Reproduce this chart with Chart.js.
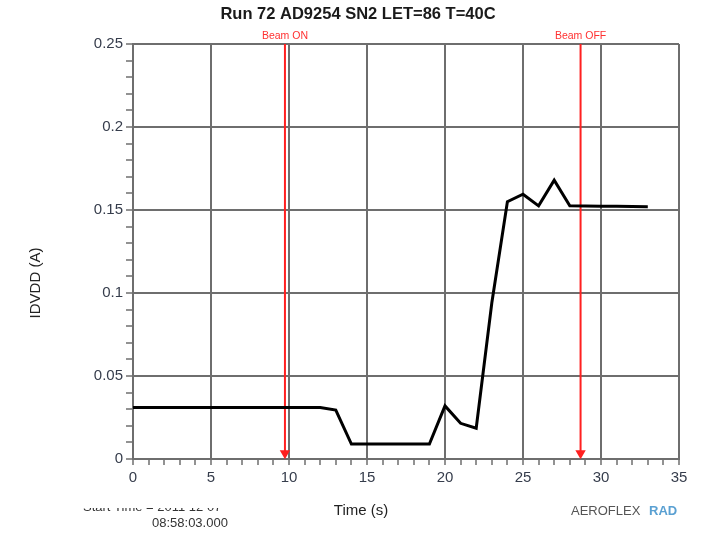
<!DOCTYPE html>
<html lang="en">
<head>
<meta charset="UTF-8">
<title>Run 72 AD9254 SN2</title>
<style>
  html, body { margin: 0; padding: 0; background: #ffffff; }
  #wrap { width: 706px; height: 534px; }
</style>
</head>
<body>
<div id="wrap"><canvas id="chartCanvas" width="706" height="534"></canvas></div>
<script src="https://cdn.jsdelivr.net/npm/chart.js@4.4.1/dist/chart.umd.min.js"></script>
<script>
// data
const timeS = [0, 1, 2, 3, 4, 5, 6, 7, 8, 9, 10, 11, 12, 13, 14, 15, 16, 17, 18, 19, 20, 21, 22, 23, 24, 25, 26, 27, 28, 29, 30, 31, 32, 33];
const idvdd = [0.031, 0.031, 0.031, 0.031, 0.031, 0.031, 0.031, 0.031, 0.031, 0.031, 0.031, 0.031, 0.031, 0.0295, 0.009, 0.009, 0.009, 0.009, 0.009, 0.009, 0.032, 0.0215, 0.0185, 0.094, 0.155, 0.1595, 0.1525, 0.168, 0.1525, 0.1524, 0.1523, 0.1522, 0.1521, 0.152];
const beamTimes = [9.74, 28.69];
const beamLabels = ['Beam ON', 'Beam OFF'];
const xTicks = [0, 5, 10, 15, 20, 25, 30, 35];
const yTicks = ['0', '0.05', '0.1', '0.15', '0.2', '0.25'];

const FONT = "'Liberation Sans', Arial, sans-serif";
const GRID = '#6e6e6e';
const TICKTXT = '#363d4c';

const lineData = timeS.map((t, i) => ({ x: t, y: idvdd[i] }));

const beamSets = beamTimes.map(t => ({
    data: [{ x: t, y: 0.25 }, { x: t, y: 0.0035 }],
    borderColor: '#ff2020',
    backgroundColor: '#ff2020',
    borderWidth: 2,
    pointStyle: 'triangle',
    rotation: 180,
    pointRadius: [0, 4],
    clip: false
}));

// titles, beam labels and footer text
const textPlugin = {
    id: 'texts',
    afterDraw(chart) {
        const ctx = chart.ctx;
        const xs = chart.scales.x;
        const top = chart.chartArea.top;
        ctx.save();
        ctx.textAlign = 'center';
        ctx.textBaseline = 'middle';

        ctx.fillStyle = '#1a1a1a';
        ctx.font = 'bold 16.5px ' + FONT;
        ctx.fillText('Run 72 AD9254 SN2 LET=86 T=40C', 358, 14);

        ctx.fillStyle = '#ff3030';
        ctx.font = '10.5px ' + FONT;
        beamTimes.forEach((t, i) => {
            ctx.fillText(beamLabels[i], xs.getPixelForValue(t), top - 8);
        });

        ctx.fillStyle = '#222';
        ctx.font = '15px ' + FONT;
        ctx.fillText('Time (s)', 361, 511);

        ctx.save();
        ctx.translate(36, 283);
        ctx.rotate(-Math.PI / 2);
        ctx.fillText('IDVDD (A)', 0, 0);
        ctx.restore();

        // start time (first line cut off at the top)
        ctx.font = '13px ' + FONT;
        ctx.fillStyle = '#333';
        ctx.textAlign = 'left';
        ctx.save();
        ctx.beginPath();
        ctx.rect(0, 508, 300, 20);
        ctx.clip();
        ctx.fillText('Start Time = 2011 12 07', 83, 507);
        ctx.restore();
        ctx.fillText('08:58:03.000', 152, 523);

        // logo
        ctx.fillStyle = '#555';
        ctx.fillText('AEROFLEX', 571, 511);
        ctx.fillStyle = '#5aa0d2';
        ctx.font = 'bold 13px ' + FONT;
        ctx.fillText('RAD', 649, 511);
        ctx.restore();
    }
};

new Chart(document.getElementById('chartCanvas'), {
    type: 'line',
    data: {
        datasets: [{
            data: lineData,
            borderColor: '#000',
            borderWidth: 3,
            pointRadius: 0,
            tension: 0
        }].concat(beamSets)
    },
    options: {
        responsive: false,
        animation: false,
        layout: { padding: { top: 44, right: 27, left: 0, bottom: 0 } },
        plugins: { legend: { display: false }, title: { display: false }, tooltip: { enabled: false } },
        scales: {
            x: {
                type: 'linear',
                min: 0, max: 35,
                afterFit: s => { s.height = 75; },
                border: { color: GRID, width: 2 },
                grid: {
                    color: c => (c.tick && c.tick.value % 5 === 0) ? GRID : 'rgba(0,0,0,0)',
                    lineWidth: 2,
                    tickColor: GRID,
                    tickWidth: 1.5,
                    tickLength: 6
                },
                ticks: {
                    stepSize: 1,
                    autoSkip: false,
                    maxRotation: 0,
                    padding: 4,
                    color: TICKTXT,
                    font: { family: FONT, size: 15 },
                    callback: v => xTicks.includes(v) ? String(v) : ''
                }
            },
            y: {
                min: 0, max: 0.25,
                afterFit: s => { s.width = 133; },
                border: { color: GRID, width: 2 },
                grid: {
                    color: c => (c.tick && Math.round(c.tick.value * 100) % 5 === 0) ? GRID : 'rgba(0,0,0,0)',
                    lineWidth: 2,
                    tickColor: GRID,
                    tickWidth: 1.5,
                    tickLength: 7
                },
                ticks: {
                    stepSize: 0.01,
                    autoSkip: false,
                    padding: 3,
                    color: TICKTXT,
                    font: { family: FONT, size: 15 },
                    callback: v => {
                        const k = Math.round(v * 100);
                        return k % 5 === 0 ? yTicks[k / 5] : '';
                    }
                }
            }
        }
    },
    plugins: [textPlugin]
});
</script>
</body>
</html>
